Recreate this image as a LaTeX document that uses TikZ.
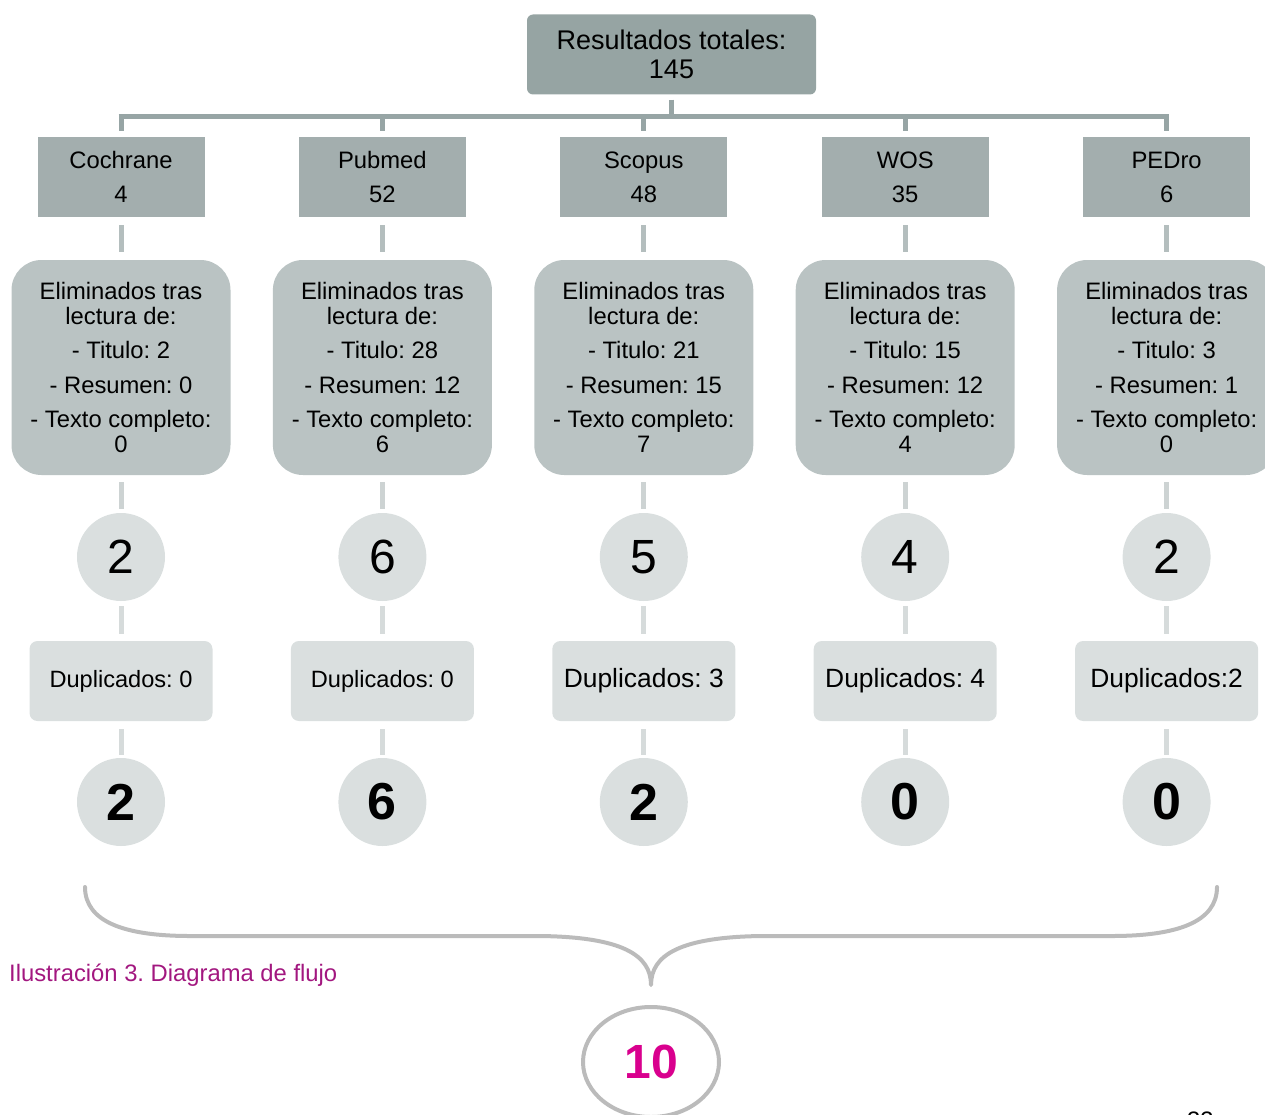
\documentclass[tikz,border=0pt]{standalone}
\usepackage{fontspec}
\setmainfont{Liberation Sans}
\usetikzlibrary{shapes.geometric}
\frenchspacing
\definecolor{topfill}{HTML}{96A4A3}
\definecolor{srcfill}{HTML}{A3AEAE}
\definecolor{elimfill}{HTML}{BAC3C3}
\definecolor{lightfill}{HTML}{DADFDF}
\definecolor{linkA}{HTML}{97A5A5}
\definecolor{linkB}{HTML}{B4BEBE}
\definecolor{linkC}{HTML}{CDD3D3}
\definecolor{linkD}{HTML}{D6DBDB}
\definecolor{bracegray}{HTML}{BBBBBB}
\definecolor{totalcol}{HTML}{D9008E}
\definecolor{captioncol}{HTML}{A2177F}
\begin{document}
\begin{tikzpicture}[x=1pt,y=-1pt,
  topbox/.style={fill=topfill, minimum width=289, minimum height=80,
    rounded corners=6, inner sep=0, align=center,
    font=\fontsize{27}{29}\selectfont},
  srcbox/.style={fill=srcfill, minimum width=167, minimum height=80,
    inner sep=0, align=center, font=\fontsize{23.8}{34}\selectfont},
  elimbox/.style={fill=elimfill, minimum width=219, minimum height=215,
    rounded corners=30, inner sep=0, align=center,
    font=\fontsize{23.8}{25}\selectfont},
  numcirc/.style={circle, fill=lightfill, minimum size=88, inner sep=0,
    font=\fontsize{48}{48}\selectfont},
  fincirc/.style={numcirc, font=\bfseries\fontsize{52}{52}\selectfont},
  dupbox/.style={fill=lightfill, minimum width=183, minimum height=80,
    rounded corners=8, inner sep=0, align=center},
  linka/.style={draw=linkA, line width=5},
  linkb/.style={draw=linkB, line width=5},
  linkc/.style={draw=linkC, line width=5},
  linkd/.style={draw=linkD, line width=5},
  brace/.style={draw=bracegray, line width=4, line cap=round, line join=round},
]
\useasboundingbox (0,0) rectangle (1265,1115);

% total of all databases
\node[topbox] (top) at (671.5,54.5) {Resultados totales:\\145};

% one column per database
\foreach \k/\src/\tot/\ti/\re/\te/\mid/\dup/\dsz/\fin in {
  1/Cochrane/4/2/0/0/2/{Duplicados: 0}/23.6/2,
  2/Pubmed/52/28/12/6/6/{Duplicados: 0}/23.6/6,
  3/Scopus/48/21/15/7/5/{Duplicados: 3}/26.4/2,
  4/WOS/35/15/12/4/4/{Duplicados: 4}/26.4/0,
  5/PEDro/6/3/1/0/2/{Duplicados:2}/26.4/0}{
  \pgfmathsetmacro\cx{121+261.4*(\k-1)}
  \node[srcbox] (s\k) at (\cx,177) {\src\\\tot};
  \node[elimbox] (e\k) at (\cx,367.5)
    {Eliminados tras\\lectura de:\\[9pt]- Titulo: \ti\\[10pt]- Resumen: \re\\[9pt]- Texto completo:\\\te};
  \node[numcirc] (m\k) at (\cx,557) {\mid};
  \node[dupbox, font=\fontsize{\dsz}{\dsz}\selectfont] (d\k) at (\cx,681) {\dup};
  \node[fincirc] (f\k) at (\cx,802) {\fin};
  \draw[linkb, shorten <=8, shorten >=8] (s\k) -- (e\k);
  \draw[linkc, shorten <=7, shorten >=4] (e\k) -- (m\k);
  \draw[linkd, shorten <=5, shorten >=7] (m\k) -- (d\k);
  \draw[linkd, shorten <=8, shorten >=3] (d\k) -- (f\k);
}

% branching bar below the total
\coordinate (bar) at (0,117);
\draw[linka] ([yshift=-5pt]top.south) -- (top.south |- bar);
\draw[linka] ([xshift=-2.5pt]s1.north |- bar) -- ([xshift=2.5pt]s5.north |- bar);
\foreach \k in {1,...,5}
  \draw[linka] (s\k.north |- bar) -- ([yshift=6pt]s\k.north);

% brace gathering the final counts
\coordinate (bl) at (85,887);
\coordinate (br) at (1217,887);
\coordinate (tip) at (651,985);
\draw[brace] (bl) .. controls (85,922) and (125,936) .. (190,936)
  -- (540,936) .. controls (622,937) and (651,955) .. (tip)
  .. controls (651,955) and (680,937) .. (762,936)
  -- (1112,936) .. controls (1177,936) and (1217,922) .. (br);

\node[ellipse, draw=bracegray, line width=4, fill=white, minimum width=136,
  minimum height=110, inner sep=0, text=totalcol,
  font=\bfseries\fontsize{48}{48}\selectfont] (total) at (651,1062) {10};

\node[anchor=west, text=captioncol, inner sep=0,
  font=\fontsize{23.8}{25}\selectfont] (cap) at (9,975) {Ilustración 3. Diagrama de flujo};

\node[anchor=base west, inner sep=0, font=\fontsize{23.8}{25}\selectfont] (pg) at (1187,1128) {33};
\end{tikzpicture}
\end{document}
